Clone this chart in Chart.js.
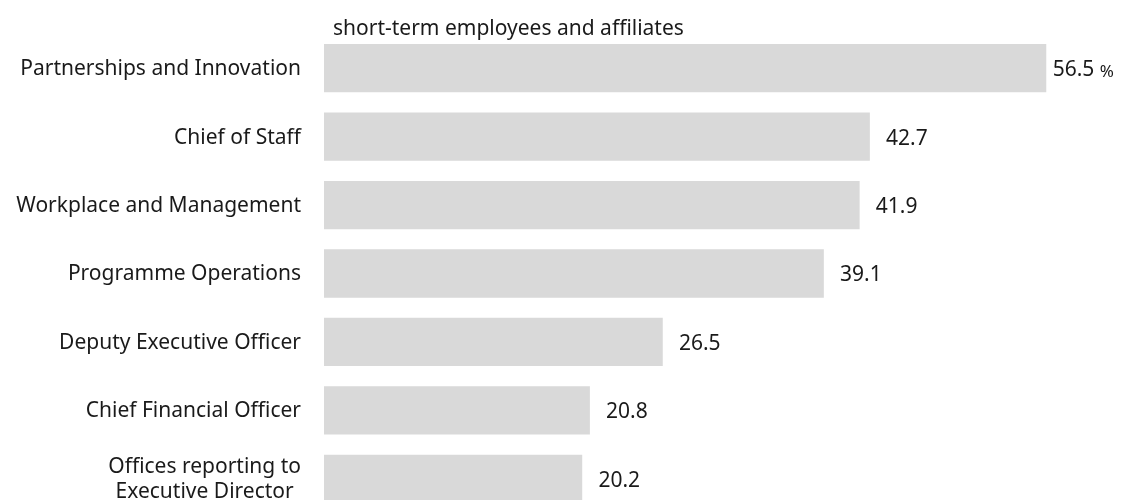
<!DOCTYPE html>
<html>
<head>
<meta charset="utf-8">
<script src="https://cdn.jsdelivr.net/npm/chart.js@4"></script>
<style>
  html, body { margin: 0; padding: 0; background: #fff; overflow: hidden; }
  #wrap { position: relative; width: 1124px; height: 514px; }
</style>
</head>
<body>
<div id="wrap"><canvas id="BarChart"></canvas></div>
<script>
const departments = [
  "Partnerships and Innovation",
  "Chief of Staff",
  "Workplace and Management",
  "Programme Operations",
  "Deputy Executive Officer",
  "Chief Financial Officer",
  ["Offices reporting to", "Executive Director"],
];
const shareValues = [56.5, 42.7, 41.9, 39.1, 26.5, 20.8, 20.2];
const chartTitle = "short-term employees and affiliates";
const unitLabel = "%";

const FONT = "'Noto Sans', 'Open Sans', sans-serif";
const TEXT_COLOR = "#1a1a1a";
const BIG = "21px " + FONT;
const SMALL = "17px " + FONT;

// category names, value labels and the heading are painted here
const labelPlugin = {
  id: "labelPlugin",
  afterDatasetsDraw(chart) {
    const { ctx, chartArea } = chart;
    const yScale = chart.scales.y;
    const meta = chart.getDatasetMeta(0);
    ctx.save();
    ctx.fillStyle = TEXT_COLOR;
    ctx.font = BIG;
    ctx.textBaseline = "middle";

    // heading
    ctx.textAlign = "left";
    ctx.fillText(chartTitle, chartArea.left + 9, 29);

    departments.forEach((name, i) => {
      const y = yScale.getPixelForValue(i) + 1;
      const lines = Array.isArray(name) ? name : [name];
      const right = chartArea.left - 23;
      if (lines.length === 1) {
        ctx.textAlign = "right";
        ctx.fillText(lines[0], right, y);
      } else {
        const widest = Math.max(...lines.map((l) => ctx.measureText(l).width));
        const cx = right - widest / 2;
        ctx.textAlign = "center";
        lines.forEach((l, k) => {
          ctx.fillText(l, cx, y + (k - (lines.length - 1) / 2) * 25);
        });
      }
    });

    meta.data.forEach((bar, i) => {
      const txt = shareValues[i].toFixed(1);
      const cx = bar.x + 37;
      const y = bar.y + 2;
      if (i === 0) {
        ctx.font = BIG;
        const w1 = ctx.measureText(txt + " ").width;
        ctx.font = SMALL;
        const w2 = ctx.measureText(unitLabel).width;
        const start = cx - (w1 + w2) / 2;
        ctx.textAlign = "left";
        ctx.font = BIG;
        ctx.fillText(txt, start, y);
        ctx.font = SMALL;
        ctx.fillText(unitLabel, start + w1, y + 2);
      } else {
        ctx.font = BIG;
        ctx.textAlign = "center";
        ctx.fillText(txt, cx, y);
      }
    });
    ctx.restore();
  },
};

document.addEventListener("DOMContentLoaded", function () {
  const ctx = document.getElementById("BarChart").getContext("2d");

  new Chart(ctx, {
    type: "bar",
    data: {
      labels: departments,
      datasets: [
        {
          data: shareValues,
          backgroundColor: "#d9d9d9",
          borderWidth: 0,
          barPercentage: 0.706,
          categoryPercentage: 1,
        },
      ],
    },
    options: {
      indexAxis: "y",
      responsive: true,
      maintainAspectRatio: false,
      animation: false,
      layout: {
        padding: { left: 324, right: 33, top: 34, bottom: 1 },
      },
      plugins: {
        legend: { display: false },
        tooltip: { enabled: false },
      },
      scales: {
        x: {
          display: false,
          min: 0,
          max: 60,
        },
        y: {
          display: false,
        },
      },
    },
    plugins: [labelPlugin],
  });
});
</script>
</body>
</html>
